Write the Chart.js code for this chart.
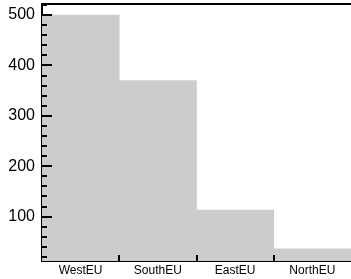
<!DOCTYPE html>
<html>
<head>
<meta charset="utf-8">
<script src="https://cdn.jsdelivr.net/npm/chart.js@4/dist/chart.umd.min.js"></script>
<style>
  body { margin: 0; background: #fff; }
  #wrap { width: 351px; height: 279px; }
</style>
</head>
<body>
<div id="wrap"><canvas id="chart"></canvas></div>
<script>
const regions = ['WestEU', 'SouthEU', 'EastEU', 'NorthEU'];
const counts = [500, 370, 113, 36];
const yTicks = [100, 200, 300, 400, 500];
const yMinorStep = 20;

// ticks pointing into the plot, plus the top frame line
const innerTicks = {
    id: 'innerTicks',
    afterDatasetsDraw(chart) {
        const { ctx, chartArea, scales } = chart;
        const y = scales.y, x = scales.x;
        ctx.save();
        ctx.strokeStyle = '#000';
        ctx.lineWidth = 2;
        ctx.beginPath();
        for (let v = yMinorStep; v <= y.max; v += yMinorStep) {
            const py = Math.round(y.getPixelForValue(v));
            const len = v % 100 === 0 ? 10 : 5;
            ctx.moveTo(chartArea.left, py);
            ctx.lineTo(chartArea.left + len, py);
        }
        for (let i = 0; i < regions.length - 1; i++) {
            const px = Math.round((x.getPixelForValue(i) + x.getPixelForValue(i + 1)) / 2);
            ctx.moveTo(px, chartArea.bottom);
            ctx.lineTo(px, chartArea.bottom - 6);
        }
        ctx.moveTo(chartArea.left - 1, chartArea.top);
        ctx.lineTo(chartArea.right, chartArea.top);
        ctx.stroke();
        ctx.restore();
    }
};

new Chart(document.getElementById('chart'), {
    type: 'bar',
    data: {
        labels: regions,
        datasets: [{
            data: counts,
            backgroundColor: '#cccccc',
            borderWidth: 0,
            barPercentage: 1,
            categoryPercentage: 1,
        }],
    },
    options: {
        responsive: true,
        maintainAspectRatio: false,
        animation: false,
        layout: { padding: { top: 4, right: 0, left: 0, bottom: 0 } },
        plugins: { legend: { display: false }, tooltip: { enabled: false } },
        scales: {
            x: {
                grid: { display: false, drawTicks: false },
                border: { display: true, color: '#000', width: 2 },
                ticks: {
                    color: '#000', padding: 2,
                    font: { family: 'Liberation Sans, Arial', size: 12 },
                    maxRotation: 0,
                },
                afterFit(s) { s.height = 18; s.paddingLeft = 0; s.paddingRight = 0; },
            },
            y: {
                min: 12,
                max: 522,
                grid: { display: false, drawTicks: false },
                border: { display: true, color: '#000', width: 2 },
                ticks: {
                    color: '#000', padding: 7,
                    font: { family: 'Liberation Sans, Arial', size: 16 },
                },
                afterBuildTicks(s) { s.ticks = yTicks.map(v => ({ value: v })); },
                afterFit(s) { s.width = 42; s.paddingTop = 0; s.paddingBottom = 0; },
            },
        },
    },
    plugins: [innerTicks],
});
</script>
</body>
</html>
